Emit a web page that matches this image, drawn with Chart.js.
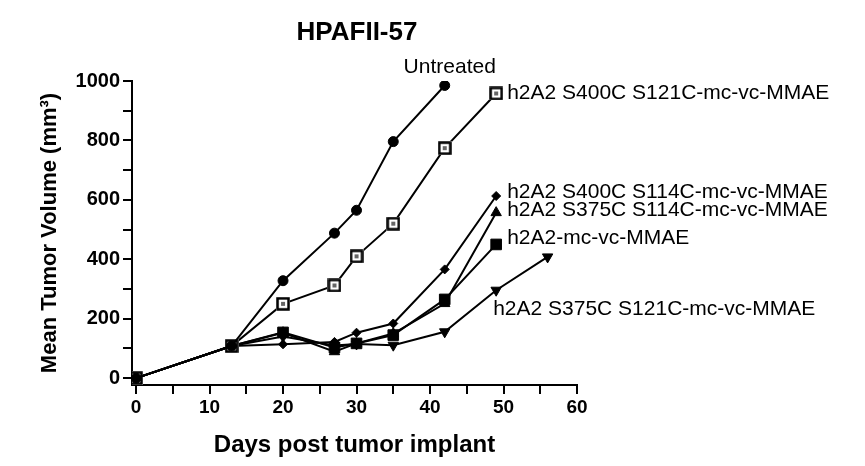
<!DOCTYPE html>
<html>
<head>
<meta charset="utf-8">
<script src="https://cdn.jsdelivr.net/npm/chart.js@4"></script>
<style>
  body { margin: 0; background: #fff; }
  #wrap { width: 865px; height: 466px; }
</style>
</head>
<body>
<div id="wrap"><canvas id="graph" width="865" height="466"></canvas></div>
<script>
// donnees
const chartTitle = "HPAFII-57";
const days = [0, 13, 20, 27, 30, 35, 42, 49, 56];
const seriesNames = [
  "Untreated",
  "h2A2 S400C S121C-mc-vc-MMAE",
  "h2A2 S400C S114C-mc-vc-MMAE",
  "h2A2 S375C S114C-mc-vc-MMAE",
  "h2A2-mc-vc-MMAE",
  "h2A2 S375C S121C-mc-vc-MMAE"
];
const untreated   = [0, 108, 328, 488, 565, 796, 985];
const s400cS121c  = [0, 108, 250, 312, 410, 520, 774, 958];
const s400cS114c  = [0, 108, 114, 122, 153, 184, 366, 613];
const s375cS114c  = [0, 108, 153, 89, 117, 150, 251, 557];
const h2a2        = [0, 108, 154, 103, 117, 145, 265, 450];
const s375cS121c  = [0, 108, 140, 110, 115, 111, 156, 296, 408];
const xTicks = [0, 5, 10, 15, 20, 25, 30, 35, 40, 45, 50, 55, 60];
const yTicks = [0, 100, 200, 300, 400, 500, 600, 700, 800, 900, 1000];

// carre ouvert avec petit carre au centre
function openSquare() {
  const c = document.createElement("canvas");
  c.width = 14; c.height = 14;
  const g = c.getContext("2d");
  g.fillStyle = "#fff";
  g.fillRect(0, 0, 14, 14);
  g.strokeStyle = "#000";
  g.lineWidth = 2.5;
  g.strokeRect(1.5, 1.5, 11, 11);
  g.fillStyle = "#666";
  g.fillRect(5, 5, 4, 4);
  return c;
}

const toPts = vals => vals.map((v, i) => ({ x: days[i], y: v }));

const styles = [
  { pointStyle: "circle", pointRadius: 5 },
  { pointStyle: openSquare(), pointRadius: 7 },
  { pointStyle: "rectRot", pointRadius: 4.5 },
  { pointStyle: "triangle", pointRadius: 6 },
  { pointStyle: "rect", pointRadius: 7.5 },
  { pointStyle: "triangle", pointRadius: 6, pointRotation: 180 }
];
const allValues = [untreated, s400cS121c, s400cS114c, s375cS114c, h2a2, s375cS121c];

// position des etiquettes par rapport a un point de la serie (at = index depuis la fin)
const labelOffsets = [
  { at: 1, dx: 5, dy: -18, align: "center" },
  { at: 1, dx: 11, dy: 0, align: "left" },
  { at: 1, dx: 11, dy: -4, align: "left" },
  { at: 1, dx: 11, dy: -2, align: "left" },
  { at: 1, dx: 11, dy: -6, align: "left" },
  { at: 2, dx: -3, dy: 19, align: "left" }
];

const textPlugin = {
  id: "textes",
  afterDraw(chart) {
    const ctx = chart.ctx;
    ctx.save();
    ctx.fillStyle = "#000";
    ctx.font = "bold 26px 'Liberation Sans', Arial, sans-serif";
    ctx.textAlign = "center";
    ctx.textBaseline = "middle";
    ctx.fillText(chartTitle, 357, 33);

    ctx.font = "21px 'Liberation Sans', Arial, sans-serif";
    chart.data.datasets.forEach((ds, i) => {
      const meta = chart.getDatasetMeta(i);
      const o = labelOffsets[i];
      const pt = meta.data[meta.data.length - o.at];
      ctx.textAlign = o.align;
      ctx.fillText(seriesNames[i], pt.x + o.dx, pt.y + o.dy);
    });
    ctx.restore();
  }
};

new Chart(document.getElementById("graph"), {
  type: "line",
  data: {
    datasets: allValues.map((vals, i) => Object.assign({
      label: seriesNames[i],
      data: toPts(vals),
      borderColor: "#000",
      backgroundColor: "#000",
      pointBackgroundColor: "#000",
      pointBorderColor: "#000",
      borderWidth: 2,
      pointBorderWidth: 1,
      tension: 0,
      fill: false
    }, styles[i]))
  },
  options: {
    responsive: false,
    animation: false,
    layout: { padding: { top: 81, right: 288, left: 0, bottom: 0 } },
    plugins: { legend: { display: false }, tooltip: { enabled: false } },
    scales: {
      x: {
        type: "linear",
        min: -0.55,
        max: 60,
        afterBuildTicks: axis => { axis.ticks = xTicks.map(v => ({ value: v })); },
        afterFit: scale => { scale.height = 81; },
        border: { color: "#000", width: 2 },
        grid: { drawOnChartArea: false, color: "#000", lineWidth: 2, tickLength: 9 },
        ticks: {
          color: "#000",
          padding: 2,
          maxRotation: 0,
          autoSkip: false,
          font: { family: "'Liberation Sans', Arial", size: 19, weight: "bold" },
          callback: v => (v % 10 === 0 ? v : "")
        },
        title: {
          display: true,
          text: "Days post tumor implant",
          color: "#000",
          font: { family: "'Liberation Sans', Arial", size: 24, weight: "bold" },
          padding: { top: 0, bottom: 6 }
        }
      },
      y: {
        min: -23,
        max: 1000,
        afterBuildTicks: axis => { axis.ticks = yTicks.map(v => ({ value: v })); },
        afterFit: scale => { scale.width = 132; },
        border: { color: "#000", width: 2 },
        grid: { drawOnChartArea: false, color: "#000", lineWidth: 2, tickLength: 9 },
        ticks: {
          color: "#000",
          padding: 3,
          autoSkip: false,
          font: { family: "'Liberation Sans', Arial", size: 20, weight: "bold" },
          callback: v => (v % 200 === 0 ? v : "")
        },
        title: {
          display: true,
          text: "Mean Tumor Volume (mm³)",
          color: "#000",
          font: { family: "'Liberation Sans', Arial", size: 22, weight: "bold" },
          padding: { top: 37, bottom: 0 }
        }
      }
    }
  },
  plugins: [textPlugin]
});
</script>
</body>
</html>
